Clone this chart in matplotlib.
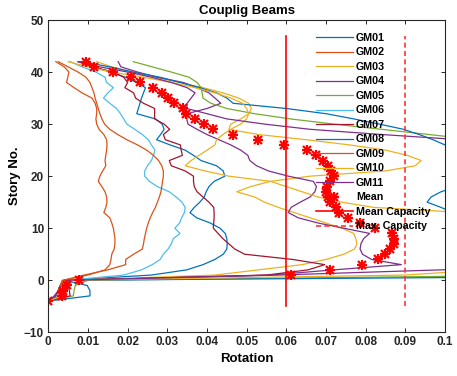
import numpy as np
import matplotlib
matplotlib.use("Agg")
import matplotlib.pyplot as plt
from matplotlib.legend_handler import HandlerTuple

plt.rcParams['font.family'] = ['Liberation Sans', 'DejaVu Sans']
plt.rcParams['font.weight'] = 'bold'

# Story levels (top to bottom)
stories = list(range(42, -5, -1))

gm01 = [0.0080, 0.0115, 0.0155, 0.0195, 0.0222, 0.0245, 0.0240, 0.0235, 0.0231, 0.0227,
        0.0223, 0.0270, 0.0287, 0.0292, 0.0283, 0.0273, 0.0307, 0.0345, 0.0366, 0.0385,
        0.0424, 0.0441, 0.0445, 0.0418, 0.0405, 0.0398, 0.0393, 0.0382, 0.0368, 0.0357,
        0.0374, 0.0408, 0.0433, 0.0446, 0.0450, 0.0451, 0.0450, 0.0441, 0.0420, 0.0390,
        0.0349, 0.0260, 0.0040, 0.0098, 0.0105, 0.0105, 0.0]
gm02 = [0.0019, 0.0040, 0.0052, 0.0049, 0.0046, 0.0065, 0.0085, 0.0110, 0.0118, 0.0122,
        0.0122, 0.0120, 0.0122, 0.0128, 0.0140, 0.0147, 0.0148, 0.0147, 0.0145, 0.0143,
        0.0145, 0.0137, 0.0130, 0.0126, 0.0135, 0.0143, 0.0147, 0.0148, 0.0145, 0.0140,
        0.0155, 0.0160, 0.0164, 0.0166, 0.0168, 0.0168, 0.0166, 0.0160, 0.0158, 0.0155,
        0.0143, 0.0100, 0.0035, 0.0030, 0.0025, 0.0018, 0.0]
gm03 = [0.0122, 0.0160, 0.0210, 0.0270, 0.0330, 0.0390, 0.0440, 0.0480, 0.0505, 0.0512,
        0.0505, 0.0485, 0.0460, 0.0455, 0.0530, 0.0650, 0.0760, 0.0850, 0.0905, 0.0940,
        0.0925, 0.0850, 0.0660, 0.0560, 0.0510, 0.0475, 0.0520, 0.0545, 0.0580, 0.0620,
        0.0660, 0.0700, 0.0740, 0.0770, 0.0775, 0.0778, 0.0772, 0.0745, 0.0700, 0.0640,
        0.0530, 0.0420, 0.0060, 0.0045, 0.0040, 0.0040, 0.0]
gm04 = [0.0176, 0.0183, 0.0225, 0.0275, 0.0340, 0.0375, 0.0405, 0.0420, 0.0435, 0.0400,
        0.0350, 0.0349, 0.0352, 0.0375, 0.0400, 0.0430, 0.0460, 0.0485, 0.0503, 0.0508,
        0.0525, 0.0555, 0.0605, 0.0668, 0.0676, 0.0672, 0.0660, 0.0635, 0.0612, 0.0605,
        0.0630, 0.0680, 0.0745, 0.0810, 0.0795, 0.0788, 0.0786, 0.0792, 0.0815, 0.0890,
        0.0720, 0.0560, 0.0045, 0.0030, 0.0025, 0.0015, 0.0]
gm05 = [0.0214, 0.0262, 0.0310, 0.0355, 0.0375, 0.0385, 0.0388, 0.0390, 0.0410, 0.0450,
        0.0520, 0.0610, 0.0720, 0.0840, 0.0960, 0.1080, 0.1150, 0.1200, 0.1220, 0.1230,
        0.1240, 0.1250, 0.1250, 0.1240, 0.1230, 0.1220, 0.1210, 0.1200, 0.1200, 0.1210,
        0.1220, 0.1230, 0.1240, 0.1250, 0.1260, 0.1270, 0.1280, 0.1290, 0.1300, 0.1300,
        0.1300, 0.1300, 0.0100, 0.0068, 0.0065, 0.0063, 0.0]
gm06 = [0.0055, 0.0085, 0.0120, 0.0143, 0.0147, 0.0164, 0.0150, 0.0139, 0.0155, 0.0172,
        0.0182, 0.0190, 0.0198, 0.0218, 0.0237, 0.0252, 0.0260, 0.0269, 0.0265, 0.0260,
        0.0250, 0.0243, 0.0243, 0.0255, 0.0275, 0.0305, 0.0322, 0.0337, 0.0345, 0.0343,
        0.0336, 0.0331, 0.0319, 0.0332, 0.0315, 0.0310, 0.0302, 0.0290, 0.0282, 0.0262,
        0.0235, 0.0190, 0.0050, 0.0040, 0.0035, 0.0030, 0.0]
gm07 = [0.0075, 0.0110, 0.0165, 0.0190, 0.0200, 0.0193, 0.0215, 0.0220, 0.0240, 0.0268,
        0.0268, 0.0268, 0.0292, 0.0306, 0.0290, 0.0295, 0.0333, 0.0335, 0.0338, 0.0305,
        0.0310, 0.0345, 0.0366, 0.0366, 0.0368, 0.0375, 0.0390, 0.0405, 0.0417, 0.0418,
        0.0418, 0.0417, 0.0416, 0.0428, 0.0440, 0.0455, 0.0470, 0.0495, 0.0616, 0.0697,
        0.0655, 0.0550, 0.0060, 0.0050, 0.0053, 0.0055, 0.0]
gm08 = [0.0084, 0.0155, 0.0214, 0.0282, 0.0332, 0.0382, 0.0424, 0.0450, 0.0466, 0.0600,
        0.0700, 0.0770, 0.0835, 0.0895, 0.0935, 0.0970, 0.1000, 0.1050, 0.1100, 0.1120,
        0.1130, 0.1120, 0.1100, 0.1070, 0.1030, 0.0990, 0.0965, 0.0955, 0.0990, 0.1020,
        0.1080, 0.1120, 0.1150, 0.1180, 0.1200, 0.1210, 0.1220, 0.1230, 0.1240, 0.1250,
        0.1250, 0.1900, 0.0050, 0.0040, 0.0035, 0.0030, 0.0]
gm09 = [0.0025, 0.0050, 0.0075, 0.0095, 0.0105, 0.0110, 0.0115, 0.0118, 0.0122, 0.0126,
        0.0130, 0.0135, 0.0142, 0.0155, 0.0175, 0.0198, 0.0225, 0.0248, 0.0265, 0.0278,
        0.0286, 0.0290, 0.0290, 0.0288, 0.0286, 0.0284, 0.0280, 0.0275, 0.0270, 0.0263,
        0.0257, 0.0252, 0.0248, 0.0245, 0.0242, 0.0240, 0.0237, 0.0215, 0.0195, 0.0195,
        0.0150, 0.0090, 0.0040, 0.0030, 0.0025, 0.0020, 0.0]
gm10 = [0.0050, 0.0100, 0.0160, 0.0240, 0.0310, 0.0370, 0.0420, 0.0460, 0.0490, 0.0500,
        0.0505, 0.0500, 0.0485, 0.0460, 0.0440, 0.0424, 0.0420, 0.0400, 0.0380, 0.0360,
        0.0345, 0.0395, 0.0455, 0.0560, 0.0600, 0.0640, 0.0680, 0.0740, 0.0820, 0.1050,
        0.1150, 0.1200, 0.1220, 0.1240, 0.1250, 0.1250, 0.1240, 0.1220, 0.1200, 0.1150,
        0.1100, 0.0900, 0.0060, 0.0045, 0.0040, 0.0035, 0.0]
gm11 = [0.0075, 0.0130, 0.0200, 0.0260, 0.0310, 0.0350, 0.0370, 0.0360, 0.0350, 0.0349,
        0.0400, 0.0450, 0.0545, 0.0660, 0.0840, 0.1040, 0.1200, 0.1280, 0.1330, 0.1360,
        0.1380, 0.1400, 0.1410, 0.1420, 0.1430, 0.1430, 0.1430, 0.1420, 0.1420, 0.1410,
        0.1410, 0.1400, 0.1400, 0.1400, 0.1400, 0.1400, 0.1400, 0.1400, 0.1400, 0.1400,
        0.0990, 0.0580, 0.0050, 0.0035, 0.0025, 0.0018, 0.0]
mean_rot = [0.0094, 0.0115, 0.0164, 0.0208, 0.0232, 0.0264, 0.0287, 0.0302, 0.0318, 0.0339,
            0.0348, 0.0370, 0.0393, 0.0416, 0.0466, 0.0528, 0.0595, 0.0651, 0.0674, 0.0692,
            0.0704, 0.0713, 0.0719, 0.0709, 0.0703, 0.0699, 0.0705, 0.0710, 0.0725, 0.0733,
            0.0756, 0.0786, 0.0823, 0.0866, 0.0872, 0.0872, 0.0861, 0.0849, 0.0830, 0.0792,
            0.0710, 0.0612, 0.0077, 0.0046, 0.0038, 0.0035, 0.0]

gm_series = [gm01, gm02, gm03, gm04, gm05, gm06, gm07, gm08, gm09, gm10, gm11]
gm_labels = ['GM01', 'GM02', 'GM03', 'GM04', 'GM05', 'GM06', 'GM07', 'GM08', 'GM09', 'GM10', 'GM11']
colors = ['#0072BD', '#D95319', '#EDB120', '#7E2F8E', '#77AC30', '#4DBEEE', '#A2142F',
          '#0072BD', '#D95319', '#EDB120', '#7E2F8E']

mean_capacity = 0.06
max_capacity = 0.09
cap_span = [-5, 47]

fig = plt.figure(figsize=(4.57, 3.76), dpi=100)
ax = fig.add_axes([0.1057, 0.1162, 0.868, 0.8306])

handles = []
for vals, lab, c in zip(gm_series, gm_labels, colors):
    h, = ax.plot(vals, stories, color=c, lw=0.9, label=lab)
    handles.append(h)
m1, = ax.plot(mean_rot, stories, linestyle='none', marker='+', markersize=7.5,
              markeredgewidth=1.6, color='red')
m2, = ax.plot(mean_rot, stories, linestyle='none', marker='x', markersize=5.8,
              markeredgewidth=1.6, color='red')
handles.append((m1, m2))
h, = ax.plot([mean_capacity, mean_capacity], cap_span, color='red', lw=1.2)
handles.append(h)
h, = ax.plot([max_capacity, max_capacity], cap_span, color='#FF3333', lw=1.2,
             linestyle=(0, (3, 2)))
handles.append(h)
labels = gm_labels + ['Mean', 'Mean Capacity', 'Max. Capacity']

ax.set_xlim(0, 0.1)
ax.set_ylim(-10, 50)
ax.set_xticks(np.arange(0, 0.101, 0.01))
ax.set_xticklabels(['0', '0.01', '0.02', '0.03', '0.04', '0.05', '0.06', '0.07', '0.08', '0.09', '0.1'])
ax.set_yticks(np.arange(-10, 51, 10))
ax.tick_params(direction='in', top=True, right=True, length=3, width=0.7,
               labelsize=8.5, colors='#262626', pad=3)
for lbl in ax.get_xticklabels() + ax.get_yticklabels():
    lbl.set_fontweight('bold')
for s in ax.spines.values():
    s.set_color('#262626')
    s.set_linewidth(0.8)

ax.set_title('Couplig Beams', fontsize=9.5, fontweight='bold', pad=4)
ax.set_xlabel('Rotation', fontsize=9.5, fontweight='bold', labelpad=3)
ax.set_ylabel('Story No.', fontsize=9.5, fontweight='bold', labelpad=2)

leg = ax.legend(handles, labels, loc='upper left',
                bbox_to_anchor=(316 / 457, 1 - 33 / 376),
                bbox_transform=fig.transFigure, frameon=False, fontsize=7.7,
                handlelength=3.45, handletextpad=0.3, labelspacing=0.42,
                borderpad=0, borderaxespad=0,
                handler_map={tuple: HandlerTuple(ndivide=1, pad=0)})
for t in leg.get_texts():
    t.set_fontweight('bold')

fig.savefig('out.png', dpi=100)
